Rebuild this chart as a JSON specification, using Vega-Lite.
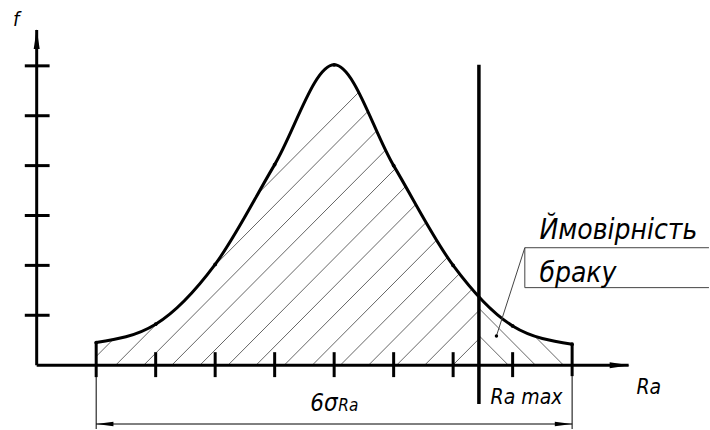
{
  "$schema": "https://vega.github.io/schema/vega-lite/v6.json",
  "width": 710,
  "height": 430,
  "autosize": {"type": "fit", "contains": "padding"},
  "padding": 0,
  "background": "white",
  "config": {"view": {"stroke": null}},
  "datasets": {
    "curve": [
      {"x": 0, "y": 0.454}, {"x": 1, "y": 0.82}, {"x": 2, "y": 2.02}, {"x": 3, "y": 4.02},
      {"x": 4, "y": 6.02}, {"x": 5, "y": 4.0}, {"x": 6, "y": 2.0}, {"x": 7, "y": 0.786}, {"x": 8, "y": 0.42}
    ],
    "hatch": [
      {"x": 0, "y": 0.174, "x2": 5.188, "y2": 6.4},
      {"x": 0.328, "y": 0, "x2": 5.662, "y2": 6.4},
      {"x": 0.8, "y": 0, "x2": 6.133, "y2": 6.4},
      {"x": 1.2717, "y": 0, "x2": 6.4333, "y2": 6.194},
      {"x": 1.745, "y": 0, "x2": 6.4333, "y2": 5.626},
      {"x": 2.2167, "y": 0, "x2": 6.4333, "y2": 5.06},
      {"x": 2.6883, "y": 0, "x2": 6.4333, "y2": 4.494},
      {"x": 3.1617, "y": 0, "x2": 6.4333, "y2": 3.926},
      {"x": 3.6333, "y": 0, "x2": 6.4333, "y2": 3.36},
      {"x": 4.105, "y": 0, "x2": 6.4333, "y2": 2.794},
      {"x": 4.5783, "y": 0, "x2": 6.4333, "y2": 2.226},
      {"x": 5.05, "y": 0, "x2": 6.4333, "y2": 1.66},
      {"x": 5.5217, "y": 0, "x2": 6.4333, "y2": 1.094},
      {"x": 5.995, "y": 0, "x2": 6.4333, "y2": 0.526},
      {"x": 6.4333, "y": 0.594, "x2": 6.928, "y2": 0},
      {"x": 6.4333, "y": 1.14, "x2": 7.3833, "y2": 0},
      {"x": 6.4333, "y": 1.706, "x2": 7.855, "y2": 0}
    ],
    "thick": [
      {"x": -1, "y": 0, "x2": -1, "y2": 6.72},
      {"x": -1, "y": 0, "x2": 8.95, "y2": 0},
      {"x": -1.2, "y": 1, "x2": -0.783, "y2": 1},
      {"x": -1.2, "y": 2, "x2": -0.783, "y2": 2},
      {"x": -1.2, "y": 3, "x2": -0.783, "y2": 3},
      {"x": -1.2, "y": 4, "x2": -0.783, "y2": 4},
      {"x": -1.2, "y": 5, "x2": -0.783, "y2": 5},
      {"x": -1.2, "y": 6, "x2": -0.783, "y2": 6},
      {"x": 0, "y": 0.454, "x2": 0, "y2": -0.24},
      {"x": 1, "y": 0.26, "x2": 1, "y2": -0.24},
      {"x": 2, "y": 0.26, "x2": 2, "y2": -0.24},
      {"x": 3, "y": 0.26, "x2": 3, "y2": -0.24},
      {"x": 4, "y": 0.26, "x2": 4, "y2": -0.24},
      {"x": 5, "y": 0.26, "x2": 5, "y2": -0.24},
      {"x": 6, "y": 0.26, "x2": 6, "y2": -0.24},
      {"x": 7, "y": 0.26, "x2": 7, "y2": -0.24},
      {"x": 8, "y": 0.42, "x2": 8, "y2": -0.22}
    ],
    "limit": [
      {"x": 6.4333, "y": 6.02, "x2": 6.4333, "y2": -0.78}
    ],
    "thin": [
      {"x": 0, "y": 0, "x2": 0, "y2": -1.28},
      {"x": 8, "y": 0, "x2": 8, "y2": -1.28},
      {"x": 0, "y": -1.18, "x2": 8, "y2": -1.18}
    ],
    "leader": [
      {"x": 6.728, "y": 0.586, "x2": 7.205, "y2": 2.354},
      {"x": 7.205, "y": 2.354, "x2": 10.3, "y2": 2.354},
      {"x": 7.205, "y": 2.354, "x2": 7.205, "y2": 1.554},
      {"x": 7.205, "y": 1.554, "x2": 10.3, "y2": 1.554}
    ],
    "leaderDot": [{"x": 6.728, "y": 0.586}],
    "arrowUp": [{"x": -1, "y": 6.54}],
    "arrowRight": [{"x": 8.8, "y": 0}],
    "dimRight": [{"x": 7.855, "y": -1.18}],
    "dimLeft": [{"x": 0.145, "y": -1.18}],
    "bigText": [
      {"x": 7.45, "y": 2.52, "label": "Ймовірність"},
      {"x": 7.45, "y": 1.66, "label": "браку"}
    ],
    "midText": [
      {"x": 9.08, "y": -0.58, "label": "Ra"},
      {"x": 6.63, "y": -0.78, "label": "Ra max"}
    ],
    "sigmaText": [{"x": 3.6, "y": -0.92, "label": "6σ"}],
    "subText": [{"x": 4.07, "y": -0.92, "label": "Ra"}],
    "fText": [{"x": -1.4, "y": 6.8, "label": "f"}]
  },
  "encoding": {
    "x": {"field": "x", "type": "quantitative", "scale": {"domain": [-1.616667, 10.216667], "nice": false, "zero": false}, "axis": null},
    "y": {"field": "y", "type": "quantitative", "scale": {"domain": [-1.28, 7.32], "nice": false, "zero": false}, "axis": null}
  },
  "layer": [
    {
      "data": {"name": "hatch"},
      "mark": {"type": "rule", "color": "#666666", "strokeWidth": 1},
      "encoding": {"x2": {"field": "x2"}, "y2": {"field": "y2"}}
    },
    {
      "data": {"name": "curve"},
      "mark": {"type": "area", "color": "white", "opacity": 1, "interpolate": "monotone"},
      "encoding": {"y2": {"datum": 7.32}}
    },
    {
      "data": {"name": "curve"},
      "mark": {"type": "line", "color": "black", "strokeWidth": 3, "interpolate": "monotone"},
      "encoding": {}
    },
    {
      "data": {"name": "curve"},
      "mark": {"type": "point", "filled": true, "opacity": 1, "color": "black", "size": 14},
      "encoding": {}
    },
    {
      "data": {"name": "thick"},
      "mark": {"type": "rule", "color": "black", "strokeWidth": 3},
      "encoding": {"x2": {"field": "x2"}, "y2": {"field": "y2"}}
    },
    {
      "data": {"name": "limit"},
      "mark": {"type": "rule", "color": "black", "strokeWidth": 3.5},
      "encoding": {"x2": {"field": "x2"}, "y2": {"field": "y2"}}
    },
    {
      "data": {"name": "thin"},
      "mark": {"type": "rule", "color": "black", "strokeWidth": 1},
      "encoding": {"x2": {"field": "x2"}, "y2": {"field": "y2"}}
    },
    {
      "data": {"name": "leader"},
      "mark": {"type": "rule", "color": "#444444", "strokeWidth": 1},
      "encoding": {"x2": {"field": "x2"}, "y2": {"field": "y2"}}
    },
    {
      "data": {"name": "leaderDot"},
      "mark": {"type": "point", "filled": true, "opacity": 1, "color": "black", "size": 12},
      "encoding": {}
    },
    {
      "data": {"name": "arrowUp"},
      "mark": {"type": "point", "filled": true, "opacity": 1, "color": "black", "strokeWidth": 0, "size": 400, "shape": "M0,-1 L-0.3,1 L0.3,1 Z"},
      "encoding": {}
    },
    {
      "data": {"name": "arrowRight"},
      "mark": {"type": "point", "filled": true, "opacity": 1, "color": "black", "strokeWidth": 0, "size": 400, "shape": "M1,0 L-1,-0.3 L-1,0.3 Z"},
      "encoding": {}
    },
    {
      "data": {"name": "dimRight"},
      "mark": {"type": "point", "filled": true, "opacity": 1, "color": "black", "strokeWidth": 0, "size": 300, "shape": "M1,0 L-1,-0.25 L-1,0.25 Z"},
      "encoding": {}
    },
    {
      "data": {"name": "dimLeft"},
      "mark": {"type": "point", "filled": true, "opacity": 1, "color": "black", "strokeWidth": 0, "size": 300, "shape": "M-1,0 L1,-0.25 L1,0.25 Z"},
      "encoding": {}
    },
    {
      "data": {"name": "bigText"},
      "mark": {"type": "text", "align": "left", "baseline": "alphabetic", "font": "DejaVu Sans Condensed", "fontStyle": "italic", "fontSize": 28, "color": "black"},
      "encoding": {"text": {"field": "label"}}
    },
    {
      "data": {"name": "midText"},
      "mark": {"type": "text", "align": "left", "baseline": "alphabetic", "font": "DejaVu Sans Condensed", "fontStyle": "italic", "fontSize": 21, "color": "black"},
      "encoding": {"text": {"field": "label"}}
    },
    {
      "data": {"name": "sigmaText"},
      "mark": {"type": "text", "align": "left", "baseline": "alphabetic", "font": "DejaVu Sans Condensed", "fontStyle": "italic", "fontSize": 24, "color": "black"},
      "encoding": {"text": {"field": "label"}}
    },
    {
      "data": {"name": "subText"},
      "mark": {"type": "text", "align": "left", "baseline": "alphabetic", "font": "DejaVu Sans Condensed", "fontStyle": "italic", "fontSize": 17, "color": "black"},
      "encoding": {"text": {"field": "label"}}
    },
    {
      "data": {"name": "fText"},
      "mark": {"type": "text", "align": "left", "baseline": "alphabetic", "font": "DejaVu Sans Condensed", "fontStyle": "italic", "fontSize": 20, "color": "black"},
      "encoding": {"text": {"field": "label"}}
    }
  ]
}
